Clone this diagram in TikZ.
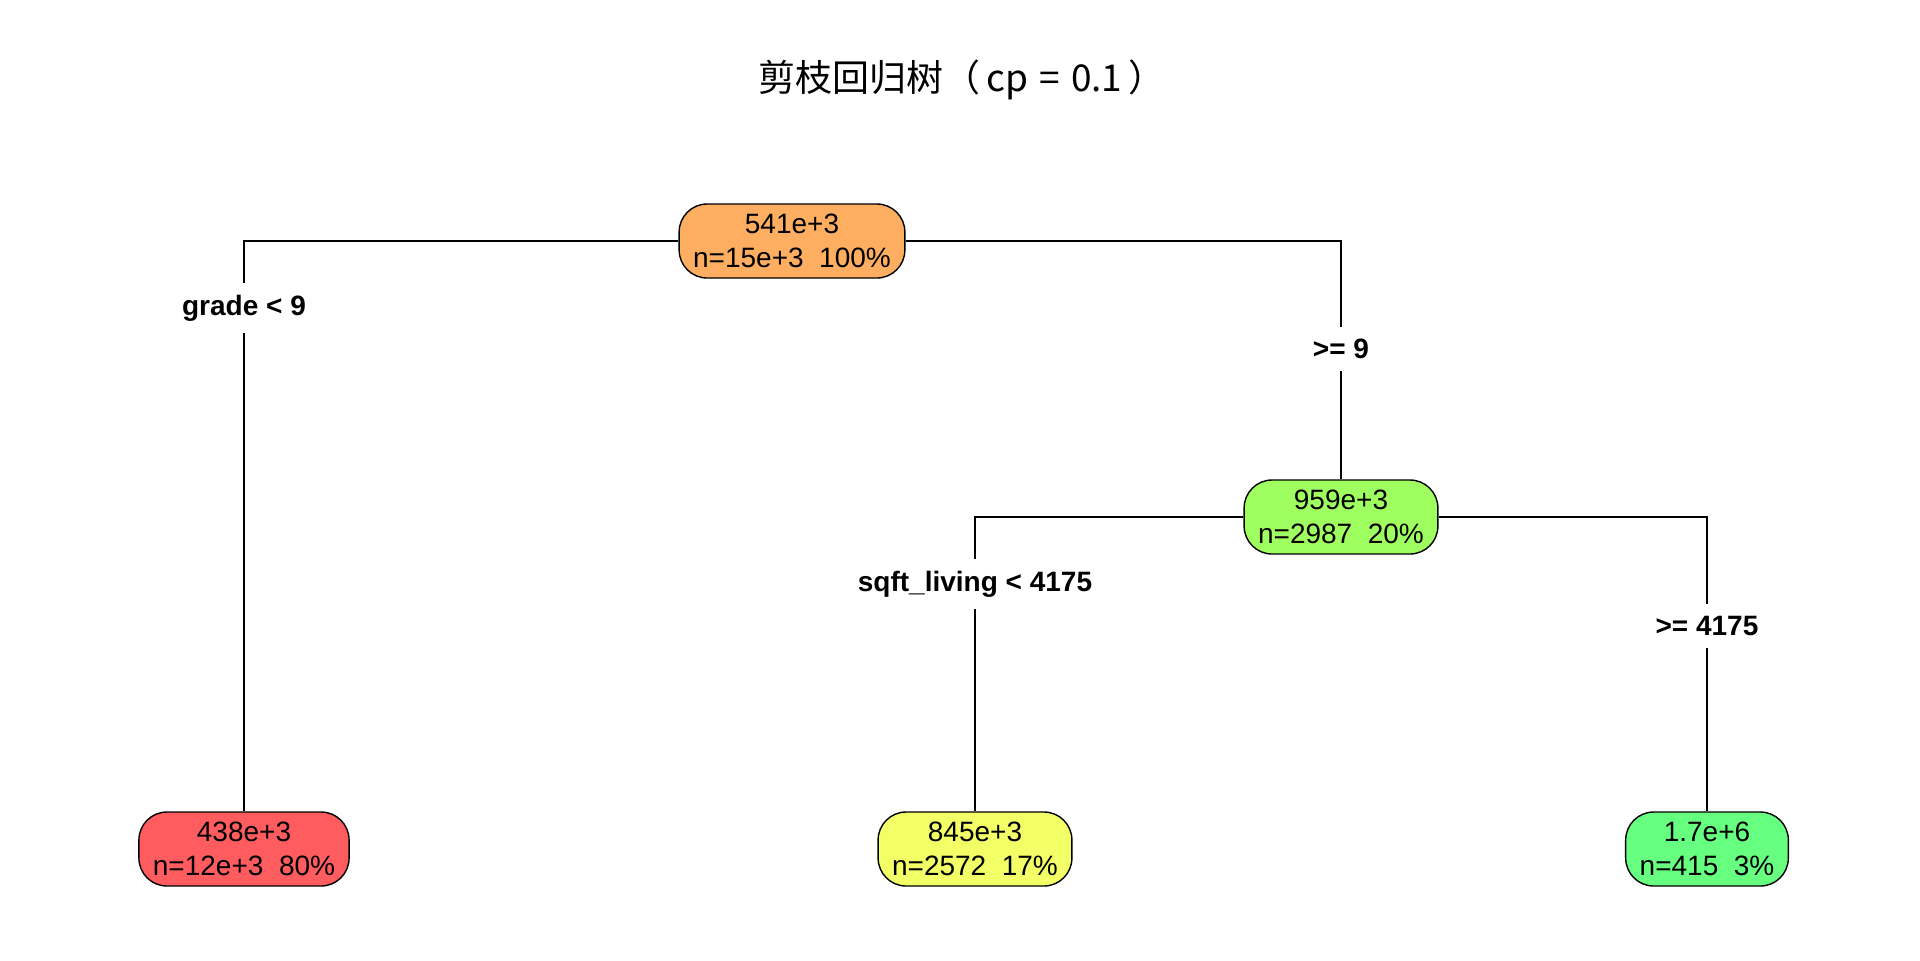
\documentclass[tikz,border=0pt]{standalone}
\usepackage{fontspec}
\setmainfont{Liberation Sans}
\newfontfamily\cjk{Noto Sans CJK SC}
\definecolor{rootorange}{RGB}{253,174,97}
\definecolor{leafred}{RGB}{255,92,96}
\definecolor{midgreen}{RGB}{160,255,96}
\definecolor{leafyellow}{RGB}{242,255,102}
\definecolor{leafgreen}{RGB}{102,255,128}
\tikzset{
  treenode/.style={draw=black,line width=0.7pt,rounded corners=14pt,align=center,
    inner xsep=7pt,minimum height=37pt,font=\fontsize{14}{17}\selectfont},
  splitlabel/.style={fill=white,inner xsep=2pt,inner ysep=6pt,
    font=\bfseries\fontsize{14}{15.5}\selectfont},
  branch/.style={line width=0.7pt}
}

\begin{document}
\begin{tikzpicture}[x=0.5pt,y=-0.5pt]
              \useasboundingbox (0,0) rectangle (1920,960);
              \def\ylow{849}% leaf row
              % title
              \node (title) at (962,80) {\cjk\fontsize{18.5}{22}\selectfont 剪枝回归树（\,cp\hspace{0.3em}=\hspace{0.3em}0.1\,）};
              % nodes
              \node[treenode,fill=rootorange] (root) at (792,241) {541e+3\\n=15e+3\ \ 100\%};
              \node[treenode,fill=midgreen] (grade) at (1341,517) {959e+3\\n=2987\ \ 20\%};
              \node[treenode,fill=leafred] (low) at (244,\ylow) {438e+3\\n=12e+3\ \ 80\%};
              \node[treenode,fill=leafyellow] (mid) at (975,\ylow) {845e+3\\n=2572\ \ 17\%};
              \node[treenode,fill=leafgreen] (high) at (1707,\ylow) {1.7e+6\\n=415\ \ 3\%};
              % branches
              \draw[branch] (root.west) -| (low.north);
              \draw[branch] (root.east) -| (grade.north);
              \draw[branch] (grade.west) -| (mid.north);
              \draw[branch] (grade.east) -| (high.north);
              % split labels
              \node[splitlabel] (lgrade) at (244,308) {grade < 9};
              \node[splitlabel] (rgrade) at (1341,349) {>= 9};
              \node[splitlabel] (lsqft) at (975,584) {sqft\_living < 4175};
              \node[splitlabel] (rsqft) at (1707,626) {>= 4175};
\end{tikzpicture}
\end{document}
